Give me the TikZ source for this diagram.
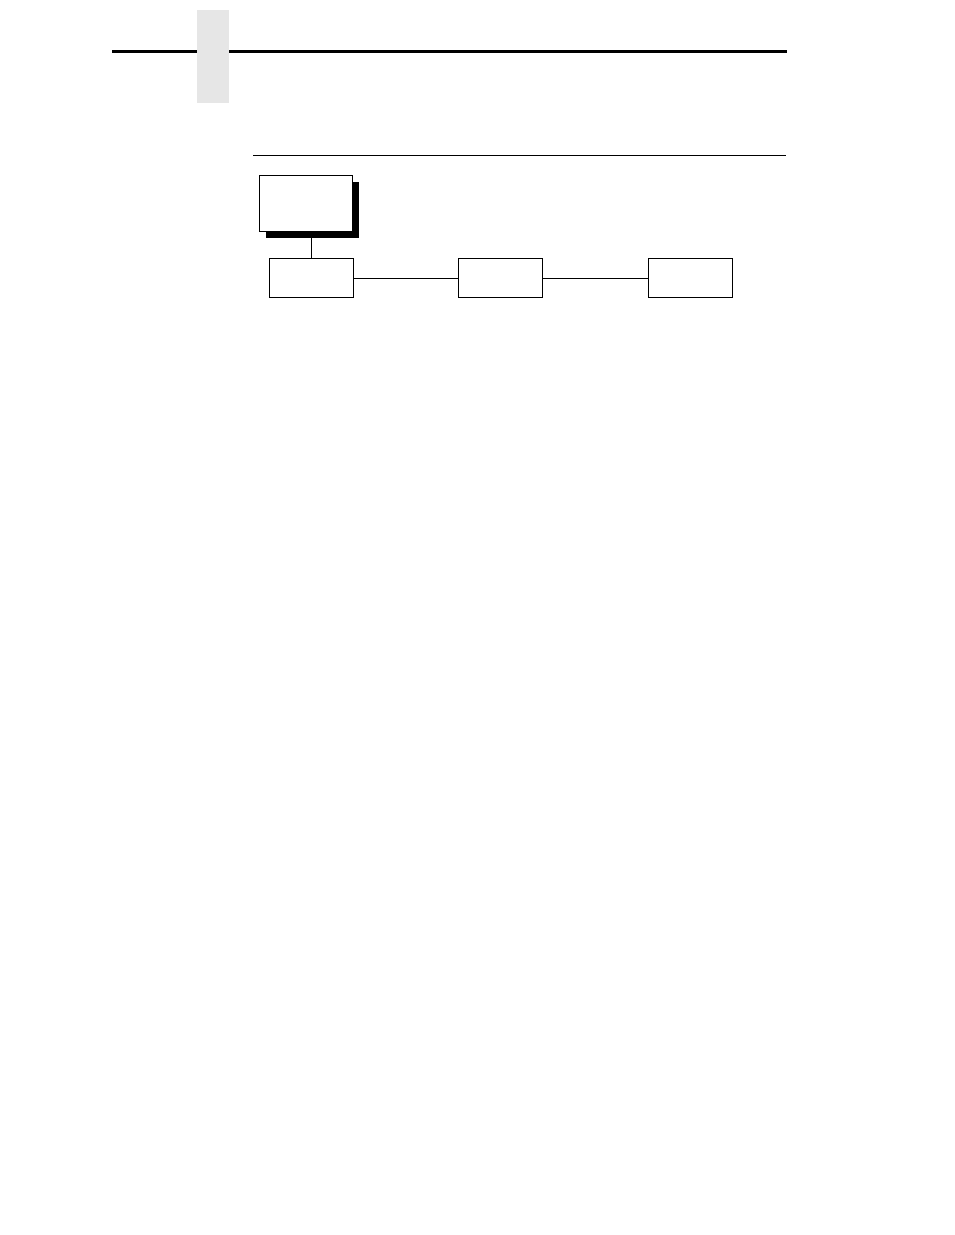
\documentclass[tikz,border=0pt]{standalone}
\usetikzlibrary{shadows}
\definecolor{tabgray}{HTML}{E6E6E6}
\newcommand{\menubox}[5]{\node[draw,fill=white,line width=1pt,inner sep=0pt,minimum width=#4pt,minimum height=#5pt] (#1) at (#2,#3) {};}
\newcommand{\link}[2]{\draw[line width=1pt] (#1) -- (#2);}

\begin{document}
\begin{tikzpicture}[x=1pt,y=-1pt]
    \useasboundingbox (0,0) rectangle (954,1235);
    % page header
    \draw[line width=2.2pt] (112,51.5) coordinate (hl) -- (787,51.5) coordinate (hr);
    \fill[tabgray] (197,10) rectangle (229,103);
    \draw[line width=1pt] (253,155.3) coordinate (sl) -- (786,155.3) coordinate (sr);
    % top menu with shadow
    \node[draw,fill=white,line width=1pt,inner sep=0pt,minimum width=93.4pt,minimum height=56.3pt,
          general shadow={fill=black,shadow xshift=6.5pt,shadow yshift=-6.5pt}] (Top) at (306,203.2) {};
    \menubox{A}{311.5}{278}{84.4}{39.5}
    \menubox{B}{500.3}{278}{84}{39.5}
    \menubox{C}{690.5}{278}{84.4}{39.5}
    \link{A.north}{A.north |- Top.south}
    \link{A.east}{B.west}\link{B.east}{C.west}
\end{tikzpicture}
\end{document}
